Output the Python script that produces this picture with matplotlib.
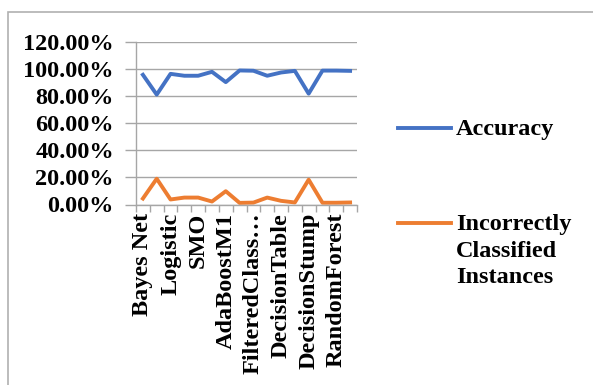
import matplotlib
matplotlib.use("Agg")
import matplotlib.pyplot as plt
from matplotlib.lines import Line2D
from matplotlib.patches import Rectangle
from matplotlib.ticker import FuncFormatter, FixedLocator

classifiers = ["Bayes Net", "NaiveBayes", "Logistic", "MultilayerPerceptron", "SMO", "IBk",
               "AdaBoostM1", "Bagging", "FilteredClass\u2026", "JRip", "DecisionTable", "OneR",
               "DecisionStump", "J48", "RandomForest", "RandomTree"]
accuracy = [95.6, 81.0, 96.3, 94.9, 94.9, 97.8, 90.2, 98.8, 98.6, 94.9, 97.3, 98.5,
            81.7, 98.7, 98.7, 98.5]
incorrect = [4.4, 19.0, 3.7, 5.1, 5.1, 2.2, 9.8, 1.2, 1.4, 5.1, 2.7, 1.5,
             18.3, 1.3, 1.3, 1.5]
y_ticks = [0, 20, 40, 60, 80, 100, 120]
series_names = ["Accuracy", "Incorrectly\nClassified\nInstances"]
colors = ["#4472C4", "#ED7D31"]

W, H = 593, 385
fig = plt.figure(figsize=(W / 100, H / 100), dpi=100)
font = "Liberation Serif"
fs = 17.5
lw = 2.8

# chart border
fig.add_artist(Rectangle((8 / W, -0.1), 1.2, (H - 12) / H + 0.1, transform=fig.transFigure,
                         fill=False, edgecolor="#B0B0B0", linewidth=1.2))

ax = fig.add_axes([136 / W, (H - 204.5) / H, (357 - 136) / W, (204.5 - 41.7) / H])
x = list(range(len(classifiers)))
ax.plot(x, accuracy, color=colors[0], linewidth=lw, solid_joinstyle="round")
ax.plot(x, incorrect, color=colors[1], linewidth=lw, solid_joinstyle="round")

ax.set_xlim(-0.5, len(classifiers) - 0.5)
ax.set_ylim(0, 120)
ax.set_yticks(y_ticks)
ax.yaxis.set_major_formatter(FuncFormatter(lambda v, p: f"{v:.2f}%"))
ax.grid(axis="y", color="#A6A6A6", linewidth=1.0)
ax.set_axisbelow(True)

ax.xaxis.set_major_locator(FixedLocator([i - 0.5 for i in range(len(classifiers) + 1)]))
ax.xaxis.set_major_formatter(FuncFormatter(lambda v, p: ""))
ax.set_xticks(x, minor=True)
ax.set_xticklabels([c if i % 2 == 0 else "" for i, c in enumerate(classifiers)], minor=True,
                   rotation=90, fontfamily=font, fontweight="bold", fontsize=fs, va="top")
ax.tick_params(axis="x", which="minor", length=0, pad=6)
ax.tick_params(axis="x", which="major", length=5, color="#A6A6A6", width=1.0)
ax.tick_params(axis="y", length=8, color="#A6A6A6", width=1.0, pad=8)
for lab in ax.get_yticklabels():
    lab.set_fontfamily(font)
    lab.set_fontweight("bold")
    lab.set_fontsize(fs)

for s in ["top", "right"]:
    ax.spines[s].set_visible(False)
for s in ["left", "bottom"]:
    ax.spines[s].set_color("#A6A6A6")
    ax.spines[s].set_linewidth(1.0)

# legend
for name, c, yy in zip(series_names, colors, [128, 223]):
    fig.add_artist(Line2D([398 / W, 451 / W], [(H - yy) / H] * 2, transform=fig.transFigure,
                          color=c, linewidth=lw))
    fig.text(456 / W, (H - yy + 9) / H, name, fontfamily=font, fontweight="bold",
             fontsize=fs, va="top", ha="left", linespacing=1.35)

fig.savefig("out.png", dpi=100)
